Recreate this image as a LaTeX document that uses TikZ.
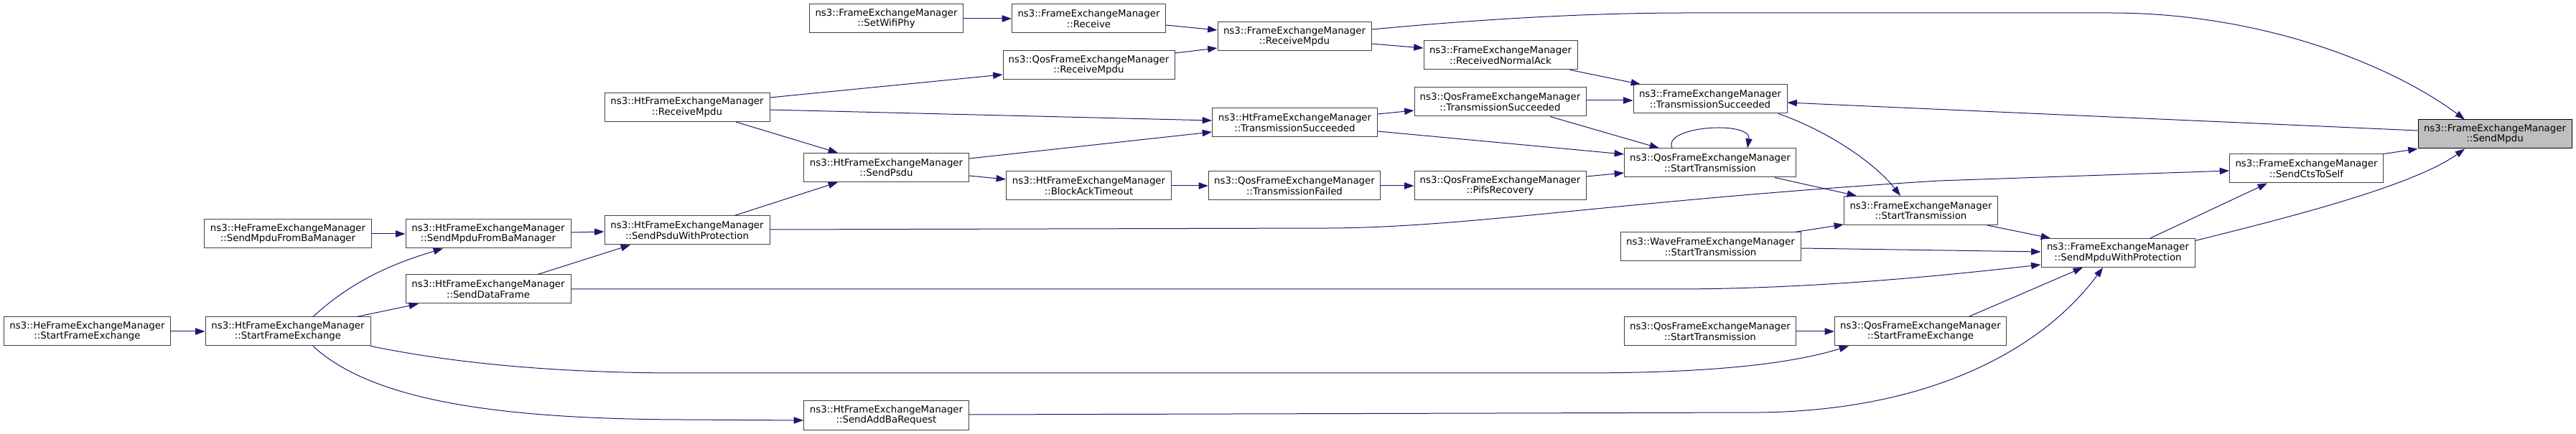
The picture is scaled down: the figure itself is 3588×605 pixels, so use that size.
\documentclass[tikz,border=0pt]{standalone}
\usepackage{fontspec}
\setmainfont{DejaVu Sans}
\usetikzlibrary{arrows.meta,calc}
\definecolor{edgec}{RGB}{25,25,112}
\definecolor{boxc}{RGB}{64,64,64}
\definecolor{mainfill}{RGB}{191,191,191}
\begin{document}
\begin{tikzpicture}[x=0.75pt,y=-0.75pt,
  box/.style={draw=boxc, fill=white, line width=0.75pt, rectangle, minimum height=30pt,
    inner xsep=2pt, inner ysep=1pt, align=center, font=\fontsize{10}{10.8}\selectfont},
  fem/.style={box, minimum width=160.5pt},
  ht/.style={box, minimum width=172.5pt},
  qos/.style={box, minimum width=179.25pt},
  he/.style={box, minimum width=174.4pt},
  wave/.style={box, minimum width=188.25pt},
  mainbox/.style={fem, fill=mainfill, draw=black},
  conn/.style={draw=edgec, line width=0.75pt, -{Triangle[length=10pt,width=7pt]}}]
\useasboundingbox (0,0) rectangle (3588,605);

% nodes
\node[he]  (HeSFE)  at (121.5,462) {ns3::HeFrameExchangeManager\\::StartFrameExchange};
\node[ht]  (HtSFE)  at (401,462)   {ns3::HtFrameExchangeManager\\::StartFrameExchange};
\node[he]  (HeSMBA) at (401,326)   {ns3::HeFrameExchangeManager\\::SendMpduFromBaManager};
\node[ht]  (HtSMBA) at (680,326)   {ns3::HtFrameExchangeManager\\::SendMpduFromBaManager};
\node[ht]  (HtSDF)  at (680,403)   {ns3::HtFrameExchangeManager\\::SendDataFrame};
\node[ht]  (HtRM)   at (957,149.5) {ns3::HtFrameExchangeManager\\::ReceiveMpdu};
\node[ht]  (HtSPWP) at (957,321)   {ns3::HtFrameExchangeManager\\::SendPsduWithProtection};
\node[fem] (SWP)    at (1234.5,26) {ns3::FrameExchangeManager\\::SetWifiPhy};
\node[ht]  (HtSP)   at (1234.5,233.5) {ns3::HtFrameExchangeManager\\::SendPsdu};
\node[ht]  (HtSABR) at (1234.5,579) {ns3::HtFrameExchangeManager\\::SendAddBaRequest};
\node[fem] (Recv)   at (1516.5,26) {ns3::FrameExchangeManager\\::Receive};
\node[qos] (QosRM)  at (1516.5,91) {ns3::QosFrameExchangeManager\\::ReceiveMpdu};
\node[ht]  (HtBAT)  at (1516.5,259) {ns3::HtFrameExchangeManager\\::BlockAckTimeout};
\node[fem] (FEMRM)  at (1803,51)   {ns3::FrameExchangeManager\\::ReceiveMpdu};
\node[ht]  (HtTS)   at (1803.5,171) {ns3::HtFrameExchangeManager\\::TransmissionSucceeded};
\node[qos] (QosTF)  at (1803,259)  {ns3::QosFrameExchangeManager\\::TransmissionFailed};
\node[fem] (RNA)    at (2090,77)   {ns3::FrameExchangeManager\\::ReceivedNormalAck};
\node[qos] (QosTS)  at (2089.5,142) {ns3::QosFrameExchangeManager\\::TransmissionSucceeded};
\node[qos] (Pifs)   at (2089.5,259) {ns3::QosFrameExchangeManager\\::PifsRecovery};
\node[fem] (FEMTS)  at (2382,138)  {ns3::FrameExchangeManager\\::TransmissionSucceeded};
\node[qos] (QosST)  at (2382,227)  {ns3::QosFrameExchangeManager\\::StartTransmission};
\node[wave] (Wave)  at (2382.5,344) {ns3::WaveFrameExchangeManager\\::StartTransmission};
\node[qos] (QosST2) at (2382,462)  {ns3::QosFrameExchangeManager\\::StartTransmission};
\node[fem] (FEMST)  at (2675.5,293.5) {ns3::FrameExchangeManager\\::StartTransmission};
\node[qos] (QosSFE) at (2675,462)  {ns3::QosFrameExchangeManager\\::StartFrameExchange};
\node[fem] (SMWP)   at (2950,352.5) {ns3::FrameExchangeManager\\::SendMpduWithProtection};
\node[fem] (CTS)    at (3212.5,235) {ns3::FrameExchangeManager\\::SendCtsToSelf};
\node[mainbox] (SMpdu) at (3475,187) {ns3::FrameExchangeManager\\::SendMpdu};

% edges
\draw[conn] (SWP.east) -- (Recv.west);
\draw[conn] ($(Recv.east)+(0,9)$) -- ($(FEMRM.west)+(0,-9)$);
\draw[conn] ($(QosRM.east)+(0,-17)$) -- ($(FEMRM.west)+(0,16)$);
\draw[conn] ($(HtRM.east)+(0,-13.5)$) -- ($(QosRM.west)+(0,13)$);
\draw[conn] ($(HtRM.east)+(0,3.5)$) -- ($(HtTS.west)+(0,-3)$);
\draw[conn] ($(HtRM.south)+(68,0)$) -- ($(HtSP.north)+(-67.5,0)$);
\draw[conn] ($(HtSP.east)+(0,-12.5)$) -- ($(HtTS.west)+(0,13)$);
\draw[conn] ($(HtSP.east)+(0,11.5)$) -- ($(HtBAT.west)+(0,-9)$);
\draw[conn] (HtBAT.east) -- (QosTF.west);
\draw[conn] ($(HtSPWP.north)+(66,0)$) -- ($(HtSP.south)+(-67.5,0)$);
\draw[conn] (HeSMBA.east) -- (HtSMBA.west);
\draw[conn] ($(HtSMBA.east)+(0,-2)$) -- ($(HtSPWP.west)+(0,2)$);
\draw[conn] ($(HtSDF.north)+(69,0)$) -- ($(HtSPWP.south)+(-79,0)$);
\draw[conn] (HtSDF.east) -- (2330,403) .. controls (2520,403) and (2700,385) .. ($(SMWP.west)+(0,16.5)$);
\draw[conn] ($(HtSFE.north)+(35,0)$) .. controls (490,392) and (545,368) .. ($(HtSMBA.south)+(-63,0)$);
\draw[conn] ($(HtSFE.north)+(96,0)$) -- ($(HtSDF.south)+(-97,0)$);
\draw[conn] (HeSFE.east) -- (HtSFE.west);
\draw[conn] (HtSFE.south east) .. controls (650,510) and (800,520) .. (950,520) -- (2200,520) .. controls (2400,520) and (2500,505) .. ($(QosSFE.south)+(-100,0)$);
\draw[conn] ($(HtSFE.south)+(35,0)$) .. controls (520,560) and (700,584) .. (950,585) -- ($(HtSABR.west)+(0,7)$);
\draw[conn] ($(HtSABR.east)+(0,-1)$) -- (2450,575) .. controls (2700,572) and (2850,480) .. ($(SMWP.south)+(-21,0)$);
\draw[conn] ($(QosSFE.north)+(67,0)$) -- ($(SMWP.south)+(-49,0)$);
\draw[conn] ($(SMWP.north)+(45,0)$) -- ($(CTS.south)+(-54.5,0)$);
\draw[conn] ($(SMWP.east)+(0,-17)$) .. controls (3180,305) and (3360,260) .. ($(SMpdu.south)+(-42,0)$);
\draw[conn] (CTS.north east) -- (SMpdu.south west);
\draw[conn] ($(FEMRM.east)+(0,-10)$) .. controls (2050,28) and (2200,18) .. (2350,18) -- (2940,18) .. controls (3150,18) and (3330,90) .. ($(SMpdu.north)+(-42,0)$);
\draw[conn] ($(FEMRM.east)+(0,10)$) -- ($(RNA.west)+(0,-10)$);
\draw[conn] ($(RNA.south)+(97,0)$) -- ($(FEMTS.north)+(-97,0)$);
\draw[conn] ($(QosTS.east)+(0,-2)$) -- ($(FEMTS.west)+(0,2)$);
\draw[conn] ($(HtTS.east)+(0,-12)$) -- ($(QosTS.west)+(0,12)$);
\draw[conn] ($(HtTS.east)+(0,12)$) -- ($(QosST.west)+(0,-12)$);
\draw[conn] ($(QosTS.south)+(69.5,0)$) -- ($(QosST.north)+(-71,0)$);
\draw[conn] ($(QosST.north)+(-53,0)$) .. controls (2315,175) and (2440,168) .. ($(QosST.north)+(52,0)$);
\draw[conn] ($(Pifs.east)+(0,-13)$) -- ($(QosST.west)+(0,14)$);
\draw[conn] (QosTF.east) -- (Pifs.west);
\draw[conn] ($(FEMTS.south)+(95,0)$) .. controls (2540,180) and (2610,225) .. ($(FEMST.north)+(-28.5,0)$);
\draw[conn] ($(QosST.south)+(90,0)$) -- ($(FEMST.north)+(-89.5,0)$);
\draw[conn] ($(HtSPWP.east)+(0,-1)$) -- (1850,318) .. controls (2050,317) and (2250,280) .. (2700,252) -- ($(CTS.west)+(0,3)$);
\draw[conn] ($(FEMST.south)+(92.5,0)$) -- ($(SMWP.north)+(-94,0)$);
\draw[conn] ($(Wave.north)+(117.5,0)$) -- ($(FEMST.west)+(0,19.5)$);
\draw[conn] ($(Wave.east)+(0,2)$) -- ($(SMWP.west)+(0,-1.5)$);
\draw[conn] (QosST2.east) -- (QosSFE.west);
\draw[conn] ($(SMpdu.west)+(0,-5)$) -- ($(FEMTS.east)+(0,5)$);
\end{tikzpicture}
\end{document}
